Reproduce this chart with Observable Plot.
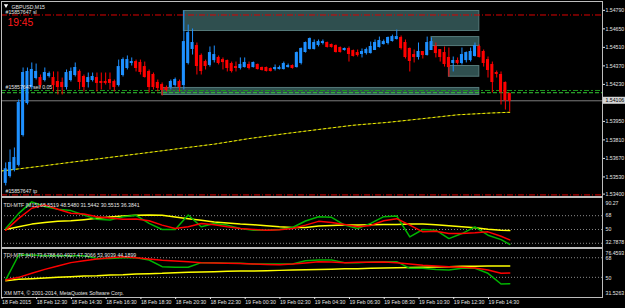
<!DOCTYPE html>
<html><head><meta charset="utf-8">
<script src="https://cdn.jsdelivr.net/npm/d3@7"></script>
<script src="https://cdn.jsdelivr.net/npm/@observablehq/plot@0.6"></script>
<style>
html,body{margin:0;padding:0;background:#000;}
#wrap{position:relative;width:625px;height:308px;overflow:hidden;background:#000;}
.pane{position:absolute;left:0;}
.pane svg{display:block;}
</style></head><body><div id="wrap"></div>
<script>
// ---------- DATA ----------
const symbolTitle = ["GBPUSD,M15"];
const clockText = ["19:45"];
const barOpen = [1.53485,1.53537,1.53583,1.53621,1.53847,1.54089,1.54210,1.54278,1.54278,1.54263,
1.54293,1.54278,1.54248,1.54241,1.54210,1.54263,1.54301,1.54324,1.54286,1.54248,
1.54263,1.54278,1.54248,1.54248,1.54263,1.54248,1.54225,1.54301,1.54354,1.54392,
1.54399,1.54392,1.54361,1.54324,1.54301,1.54241,1.54225,1.54203,1.54210,1.54225,
1.54248,1.54225,1.54392,1.54498,1.54520,1.54445,1.54399,1.54377,1.54414,1.54430,
1.54414,1.54407,1.54384,1.54361,1.54354,1.54361,1.54377,1.54361,1.54377,1.54354,
1.54354,1.54346,1.54346,1.54346,1.54346,1.54361,1.54369,1.54361,1.54392,1.54475,
1.54498,1.54498,1.54528,1.54543,1.54543,1.54528,1.54520,1.54505,1.54490,1.54498,
1.54482,1.54467,1.54460,1.54467,1.54467,1.54490,1.54513,1.54535,1.54543,1.54558,
1.54573,1.54581,1.54543,1.54498,1.54452,1.54437,1.54475,1.54452,1.54490,1.54513,
1.54490,1.54467,1.54430,1.54392,1.54407,1.54392,1.54414,1.54414,1.54445,1.54513,
1.54475,1.54414,1.54377,1.54316,1.54301,1.54241,1.54157];
const barHigh = [1.53636,1.53734,1.53749,1.54112,1.54354,1.54354,1.54392,1.54384,1.54301,1.54354,
1.54324,1.54324,1.54324,1.54278,1.54339,1.54354,1.54392,1.54339,1.54301,1.54316,
1.54316,1.54316,1.54316,1.54316,1.54316,1.54263,1.54414,1.54430,1.54445,1.54430,
1.54414,1.54414,1.54399,1.54339,1.54316,1.54263,1.54241,1.54218,1.54263,1.54278,
1.54263,1.54785,1.54679,1.54649,1.54543,1.54460,1.54414,1.54513,1.54520,1.54445,
1.54430,1.54414,1.54399,1.54399,1.54430,1.54430,1.54399,1.54399,1.54384,1.54361,
1.54361,1.54354,1.54377,1.54369,1.54399,1.54384,1.54377,1.54475,1.54505,1.54550,
1.54581,1.54566,1.54566,1.54566,1.54550,1.54535,1.54528,1.54513,1.54505,1.54513,
1.54490,1.54490,1.54498,1.54505,1.54550,1.54566,1.54588,1.54566,1.54588,1.54603,
1.54641,1.54596,1.54566,1.54505,1.54490,1.54543,1.54475,1.54588,1.54581,1.54543,
1.54490,1.54513,1.54505,1.54437,1.54430,1.54505,1.54475,1.54505,1.54543,1.54528,
1.54490,1.54437,1.54399,1.54331,1.54324,1.54248,1.54165];
const barLow = [1.53462,1.53522,1.53568,1.53606,1.53832,1.54074,1.54188,1.54263,1.54203,1.54248,
1.54278,1.54173,1.54150,1.54150,1.54188,1.54248,1.54286,1.54188,1.54173,1.54203,
1.54248,1.54173,1.54188,1.54225,1.54188,1.54173,1.54210,1.54286,1.54339,1.54369,
1.54324,1.54301,1.54278,1.54165,1.54188,1.54173,1.54142,1.54173,1.54188,1.54210,
1.54173,1.54188,1.54377,1.54452,1.54301,1.54301,1.54339,1.54361,1.54392,1.54377,
1.54339,1.54324,1.54316,1.54324,1.54339,1.54354,1.54339,1.54354,1.54339,1.54331,
1.54324,1.54324,1.54331,1.54339,1.54339,1.54354,1.54346,1.54354,1.54377,1.54467,
1.54490,1.54490,1.54513,1.54528,1.54505,1.54505,1.54467,1.54467,1.54482,1.54399,
1.54437,1.54437,1.54430,1.54452,1.54460,1.54490,1.54505,1.54528,1.54528,1.54550,
1.54566,1.54490,1.54422,1.54324,1.54392,1.54414,1.54422,1.54445,1.54490,1.54430,
1.54399,1.54361,1.54286,1.54324,1.54377,1.54377,1.54392,1.54399,1.54437,1.54430,
1.54361,1.54278,1.54165,1.54278,1.54074,1.54036,1.54021];
const barClose = [1.53588,1.53636,1.53673,1.54089,1.54316,1.54324,1.54339,1.54324,1.54225,1.54316,
1.54309,1.54225,1.54210,1.54210,1.54316,1.54324,1.54354,1.54248,1.54210,1.54278,
1.54286,1.54241,1.54241,1.54241,1.54241,1.54210,1.54361,1.54414,1.54414,1.54399,
1.54354,1.54324,1.54286,1.54210,1.54210,1.54203,1.54188,1.54188,1.54248,1.54263,
1.54210,1.54550,1.54618,1.54543,1.54369,1.54331,1.54369,1.54467,1.54452,1.54392,
1.54399,1.54354,1.54331,1.54354,1.54377,1.54392,1.54354,1.54392,1.54346,1.54339,
1.54331,1.54331,1.54354,1.54354,1.54384,1.54369,1.54354,1.54467,1.54498,1.54543,
1.54573,1.54543,1.54550,1.54550,1.54513,1.54513,1.54475,1.54475,1.54498,1.54460,
1.54445,1.54452,1.54475,1.54490,1.54513,1.54543,1.54558,1.54550,1.54581,1.54588,
1.54588,1.54505,1.54437,1.54407,1.54437,1.54475,1.54452,1.54543,1.54550,1.54467,
1.54437,1.54384,1.54361,1.54407,1.54392,1.54452,1.54467,1.54475,1.54520,1.54437,
1.54392,1.54339,1.54248,1.54309,1.54173,1.54110,1.54106];

// moving average (yellow dotted), sampled bars
const maBars = [-1,0,8,16,24,32,40,48,56,64,72,80,88,96,104,112,116];
const maValues = [1.53575,1.53579,1.53611,1.53645,1.53678,1.53711,1.53745,1.53778,1.53820,1.53856,1.53889,1.53921,1.53943,1.53971,1.54000,1.54014,1.54019];

// zones (rectangles)
const zoneFromBar = [41,36,98,102];
const zoneToBar = [109,109,109,109];
const zoneHigh = [1.54785,1.54203,1.54588,1.54369];
const zoneLow = [1.54634,1.54150,1.54520,1.54288];

// order lines
const slPrice = 1.54755, tpPrice = 1.53394;
const sellPrice = 1.54184, sellPrice2 = 1.54167;
const bidPrice = 1.54106;
const orderLabels = ["#15857647 sl","#15857647 sell 0.05","#15857647 tp"];

// price axis
const priceRange = [1.53382, 1.54857];
const priceTicks = [1.5479,1.5465,1.5451,1.5437,1.5423,1.5395,1.5381,1.5367,1.5353,1.5340];

// time axis
const timeLabels = ["18 Feb 2015","18 Feb 12:30","18 Feb 14:30","18 Feb 16:30","18 Feb 18:30","18 Feb 20:30","18 Feb 22:30","19 Feb 00:30","19 Feb 02:30","19 Feb 04:30","19 Feb 06:30","19 Feb 08:30","19 Feb 10:30","19 Feb 12:30","19 Feb 14:30"];
const timeTickBars = [-0.97,7,15,23,31,39,47,55,63,71,79,87,95,103,111];

// TDI indicators (sampled every 3 bars)
const tdiBars = [0,3,6,9,12,15,18,21,24,27,30,33,36,39,42,45,48,51,54,57,60,63,66,69,72,75,78,81,84,87,90,93,96,99,102,105,108,111,114,116];
const m15Green = [51.3,71,86,79.9,76.4,74.6,68.9,63.2,62.3,66.7,68.5,57.9,50,50,68.9,53.5,57.9,55.7,51.3,49.1,49.1,50,52.6,61,66.7,65.8,55.7,51.3,57.9,66.7,67.6,40.3,50,49.1,38.1,44.7,53.5,42.5,36.8,30.55];
const m15Red = [49.1,64.5,77.7,82.1,76.4,71.1,70.2,66.7,65,63.2,63.6,61.4,55.7,51.3,53.5,57.9,56.2,53.5,51.3,50,49.1,49.6,51.3,55.7,60.6,59.2,56.6,53.5,55.3,61.4,64.1,55.7,46.9,47.8,44.7,44.7,45.6,46.9,41.2,36.38];
const m15Yellow = [50,53.5,57,59.2,60.6,61.4,62.8,64.5,66.3,67.6,68.5,68.9,68.5,66.3,64.1,61.9,59.7,58.4,57,56.2,54.8,53.5,52.6,52.6,54.4,55.3,55.7,55.7,56.2,56.6,56.6,57,57,56.2,54.8,53.5,52.2,50.4,49.1,48.55];
const h1Green = [47.6,70.5,70.5,69.9,69.9,69.9,69.9,67.4,67.4,68,68,65.9,59.8,59.2,59.2,63.5,63.5,62.9,62.9,62.2,62.2,62.2,62.2,65.3,65.9,65.9,63.5,63.5,64.1,64.4,64.4,58.3,58.3,57.3,56.7,58.3,58.3,53.7,43.9,44.19];
const h1Red = [47.6,50,53.7,57.3,60.4,63.5,65.3,66.8,68,69,68,66.8,65.6,65,64.4,63.5,63.2,62.9,62.6,62.2,61.9,61.6,62.2,63.2,64.4,64.1,63.5,63.8,63.8,64.1,63.5,62.2,61,60.4,59.8,59.2,58.6,56.7,53.7,53.9];
const h1Yellow = [46.9,48.2,48.8,49.4,50,50.6,51.2,51.5,52.1,52.4,53.1,53.4,53.7,54.3,54.6,54.9,55.2,55.5,55.8,55.8,56.1,56.4,56.7,57,57.3,57.5,57.8,58,58.3,58.5,58.8,59,59.2,59.5,59.8,60.1,60.2,60.4,60.5,60.49];
const m15Title = ["TDI-MTF [M15] 65.5519 48.5480 31.5442 30.5515 36.3841"];
const h1Title = ["TDI-MTF [H1] 73.6788 60.4927 47.3066 53.9039 44.1899"];
const m15Range = [26.5, 91.7], h1Range = [31.5263, 76.4593];
const m15Levels = [68, 50, 32], h1Levels = [68, 50];
const m15MaxLabel = ["90.27"], m15MinLabel = ["32.7878"];
const h1MaxLabel = ["76.4593"], h1MinLabel = ["31.5263"];
const copyright = ["XM MT4, © 2001-2014, MetaQuotes Software Corp."];

// ---------- BUILD ----------
const FONT = "'Liberation Sans', Arial, sans-serif";
const FS = 5.2;
const TXT = "#e4e4e4";
const xDomain = [-0.97, 137.35];
const baseStyle = {background: "transparent", color: TXT, fontFamily: FONT, fontSize: FS + "px", overflow: "visible"};

const candles = barOpen.map((o, i) => ({i, o, h: barHigh[i], l: barLow[i], c: barClose[i], up: barClose[i] >= o}));
const ma = maBars.map((b, k) => ({b, v: maValues[k]}));
const zones = zoneFromBar.map((b, k) => ({b1: b, b2: zoneToBar[k], p1: zoneLow[k], p2: zoneHigh[k]}));
const col = d => d.up ? "#1e90ff" : "#ff0000";

function place(svg, top) {
  const d = document.createElement("div");
  d.className = "pane"; d.style.top = top + "px";
  d.appendChild(svg);
  document.getElementById("wrap").appendChild(d);
}

const bidLabel = (index, scales, values, dim) => {
  const y = scales.y(bidPrice);
  const g = d3.create("svg:g");
  const x0 = dim.width - dim.marginRight;
  g.append("rect").attr("x", x0 + 1).attr("y", y - 3.5).attr("width", 22).attr("height", 7).attr("fill", "#d6d6d6");
  g.append("text").attr("x", x0 + 3.5).attr("y", y).attr("dy", "0.35em").attr("text-anchor", "start")
    .attr("font-size", FS).attr("font-family", FONT).attr("fill", "#000").text(bidPrice.toFixed(5));
  return g.node();
};

const main = Plot.plot({
  width: 625, height: 197,
  marginTop: 1, marginBottom: 1, marginLeft: 1, marginRight: 23,
  x: {domain: xDomain, axis: null, label: null},
  y: {domain: priceRange, axis: null, label: null},
  style: baseStyle,
  marks: [
    Plot.rect(zones, {x1: "b1", x2: "b2", y1: "p1", y2: "p2", fill: "#2f4f4f", stroke: "#557a7a", strokeWidth: 1}),
    Plot.ruleY([bidPrice], {stroke: "#7c7c7c"}),
    Plot.ruleY([slPrice, tpPrice], {stroke: "#dd0000", strokeDasharray: "6,2,1,2"}),
    Plot.ruleY([sellPrice], {stroke: "#1e9a1e", strokeDasharray: "5,2,2,2"}),
    Plot.ruleY([sellPrice2], {stroke: "#34c934", strokeDasharray: "4,2"}),
    Plot.line(ma, {x: "b", y: "v", stroke: "#5c5c00", strokeWidth: 1}),
    Plot.line(ma, {x: "b", y: "v", stroke: "#f0f000", strokeWidth: 1, strokeDasharray: "2,3"}),
    Plot.ruleX(candles, {x: "i", y1: "l", y2: "h", stroke: col, strokeWidth: 1}),
    Plot.rect(candles, {x1: d => d.i - 0.35, x2: d => d.i + 0.35, y1: "o", y2: "c", fill: col, insetTop: -0.5, insetBottom: -0.5}),
    Plot.frame({stroke: "#bdbdbd"}),
    Plot.axisY({anchor: "right", label: null, ticks: priceTicks, tickFormat: d => d.toFixed(5), tickSize: 2, tickPadding: 1, fontSize: FS, fill: TXT}),
    bidLabel,
    Plot.dot([0], {frameAnchor: "top-left", symbol: "triangle", rotate: 180, r: 1.6, fill: "#ffffff", stroke: null, dx: 4.5, dy: 4}),
    Plot.text(symbolTitle, {frameAnchor: "top-left", text: d => d, textAnchor: "start", dx: 10, dy: 3.4, fontSize: FS, fill: TXT}),
    Plot.text(clockText, {frameAnchor: "top-left", text: d => d, textAnchor: "start", dx: 6, dy: 17, fontSize: 10.3, fill: "#ff1a1a", fontFamily: FONT}),
    Plot.text([slPrice], {y: d => d, frameAnchor: "left", text: () => orderLabels[0], textAnchor: "start", dx: 4, dy: -2.8, fontSize: FS, fill: TXT}),
    Plot.text([sellPrice], {y: d => d, frameAnchor: "left", text: () => orderLabels[1], textAnchor: "start", dx: 4, dy: -3, fontSize: FS, fill: TXT}),
    Plot.text([tpPrice], {y: d => d, frameAnchor: "left", text: () => orderLabels[2], textAnchor: "start", dx: 4, dy: -3.3, fontSize: FS, fill: TXT})
  ]
});
place(main, 0);

const m15 = tdiBars.map((b, k) => ({b, g: m15Green[k], r: m15Red[k], y: m15Yellow[k]}));
const h1 = tdiBars.map((b, k) => ({b, g: h1Green[k], r: h1Red[k], y: h1Yellow[k]}));

const p2 = Plot.plot({
  width: 625, height: 51,
  marginTop: 0, marginBottom: 1, marginLeft: 1, marginRight: 23,
  x: {domain: xDomain, axis: null, label: null},
  y: {domain: m15Range, axis: null, label: null},
  style: baseStyle,
  marks: [
    Plot.ruleY(m15Levels, {stroke: "#8a8a8a", strokeDasharray: "1,2"}),
    Plot.line(m15, {x: "b", y: "y", stroke: "#ffff00", strokeWidth: 1.5}),
    Plot.line(m15, {x: "b", y: "g", stroke: "#00b400", strokeWidth: 1.5}),
    Plot.line(m15, {x: "b", y: "r", stroke: "#ff0000", strokeWidth: 1.5}),
    Plot.frame({stroke: "#bdbdbd"}),
    Plot.axisY({anchor: "right", label: null, ticks: [68, 50], tickSize: 0, tickPadding: 3, fontSize: FS, fill: TXT}),
    Plot.text(m15MaxLabel, {frameAnchor: "top-right", text: d => d, textAnchor: "start", dx: 3, dy: 3.3, fontSize: FS, fill: TXT}),
    Plot.text(m15MinLabel, {frameAnchor: "bottom-right", text: d => d, textAnchor: "start", dx: 3, dy: -4, fontSize: FS, fill: TXT}),
    Plot.text(m15Title, {frameAnchor: "top-left", text: d => d, textAnchor: "start", dx: 2, dy: 5.5, fontSize: FS, fill: TXT})
  ]
});
place(p2, 197);

const p3 = Plot.plot({
  width: 625, height: 60,
  marginTop: 0, marginBottom: 11, marginLeft: 1, marginRight: 23,
  x: {domain: xDomain, axis: null, label: null},
  y: {domain: h1Range, axis: null, label: null},
  style: baseStyle,
  marks: [
    Plot.ruleY(h1Levels, {stroke: "#8a8a8a", strokeDasharray: "1,2"}),
    Plot.line(h1, {x: "b", y: "y", stroke: "#ffff00", strokeWidth: 1.5}),
    Plot.line(h1, {x: "b", y: "g", stroke: "#00b400", strokeWidth: 1.5}),
    Plot.line(h1, {x: "b", y: "r", stroke: "#ff0000", strokeWidth: 1.5}),
    Plot.frame({stroke: "#bdbdbd"}),
    Plot.axisY({anchor: "right", label: null, ticks: h1Levels, tickSize: 0, tickPadding: 3, fontSize: FS, fill: TXT, dy: 0.6}),
    Plot.text(h1MaxLabel, {frameAnchor: "top-right", text: d => d, textAnchor: "start", dx: 3, dy: 2.8, fontSize: FS, fill: TXT}),
    Plot.text(h1MinLabel, {frameAnchor: "bottom-right", text: d => d, textAnchor: "start", dx: 3, dy: -2.5, fontSize: FS, fill: TXT}),
    Plot.text(h1Title, {frameAnchor: "top-left", text: d => d, textAnchor: "start", dx: 2, dy: 5, fontSize: FS, fill: TXT}),
    Plot.text(copyright, {frameAnchor: "bottom-left", text: d => d, textAnchor: "start", dx: 2.5, dy: -3, fontSize: FS, fill: TXT}),
    Plot.axisX(timeTickBars, {anchor: "bottom", label: null, tickSize: 2, tickPadding: 1, tickFormat: d => timeLabels[timeTickBars.indexOf(d)], textAnchor: "start", dx: 0.5, fontSize: FS, fill: TXT})
  ]
});
place(p3, 248);
</script></body></html>
